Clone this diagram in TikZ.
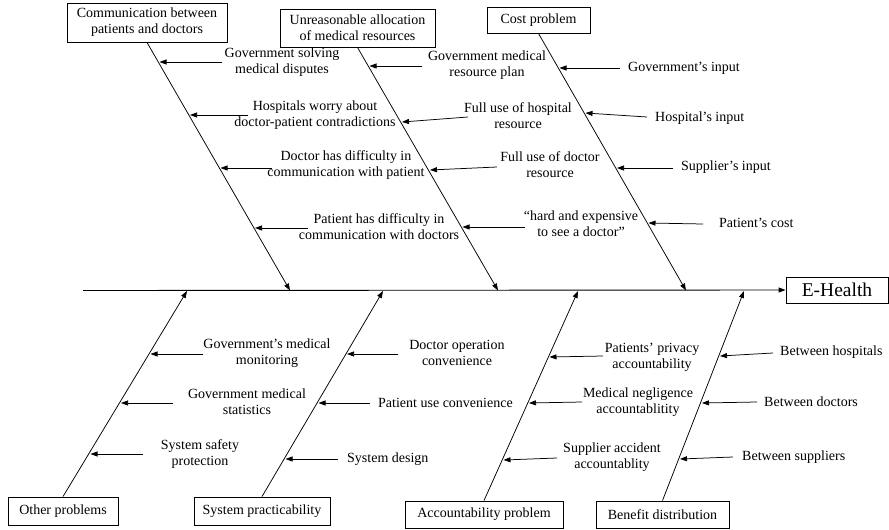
\documentclass[tikz,border=0pt]{standalone}
\usepackage{fontspec}
\setmainfont{Liberation Serif}
\usetikzlibrary{arrows.meta}
\begin{document}
\begin{tikzpicture}[x=1pt,y=-1pt,
  every node/.style={font=\fontsize{14}{16}\selectfont},
  cause/.style={draw, line width=0.9pt, inner sep=0pt, align=center},
  lbl/.style={align=center, inner sep=0pt},
  rlbl/.style={anchor=west, inner sep=0pt},
  bone/.style={line width=0.75pt, -{Triangle[length=7pt,width=5pt]}},
  twig/.style={line width=0.75pt, -{Triangle[length=7pt,width=5pt]}},
]
\useasboundingbox (0,0) rectangle (889,530);

% effect and main spine
\node[cause, minimum width=102pt, minimum height=26pt,
      font=\fontsize{19.5}{22}\selectfont] (eh) at (837,290) {E-Health};
\coordinate (tail) at (83,290.5);
\draw[line width=0.9pt, -{Triangle[length=7pt,width=5pt]}] (tail) -- (eh.west);

% cause boxes
\node[cause, minimum width=160pt, minimum height=39pt] (b1) at (147,22.5) {Communication between\\patients and doctors};
\node[cause, minimum width=155pt, minimum height=38pt] (b2) at (357.5,28) {Unreasonable allocation\\of medical resources};
\node[cause, minimum width=103pt, minimum height=26pt] (b3) at (538.5,20) {Cost problem};
\node[cause, minimum width=110pt, minimum height=28pt] (b4) at (63,511) {Other problems};
\node[cause, minimum width=136pt, minimum height=28pt] (b5) at (262,511) {System practicability};
\node[cause, minimum width=158pt, minimum height=27pt] (b6) at (484,514.5) {Accountability problem};
\node[cause, minimum width=133pt, minimum height=27pt] (b7) at (662.5,514.5) {Benefit distribution};

% where the bones meet the spine
\coordinate (t1) at (290,290.5);
\coordinate (t2) at (498,290.5);
\coordinate (t3) at (686,290.5);
\coordinate (t4) at (187,291);
\coordinate (t5) at (383,291);
\coordinate (t6) at (578,291);
\coordinate (t7) at (744,291);

\draw[bone] (b1.south) -- (t1);
\draw[bone] (b2.south) -- (t2);
\draw[bone] (b3.south) -- (t3);
\draw[bone] (b4.north) -- (t4);
\draw[bone] (b5.north) -- (t5);
\draw[bone] (b6.north) -- (t6);
\draw[bone] (b7.north) -- (t7);

% --- Communication between patients and doctors
\node[lbl] (l11) at (282,62) {Government solving\\medical disputes};
\node[lbl] (l12) at (315,115) {Hospitals worry about\\doctor-patient contradictions};
\node[lbl] (l13) at (346,165) {Doctor has difficulty in\\communication with patient};
\node[lbl] (l14) at (379,227) {Patient has difficulty in\\communication with doctors};
\coordinate (s11) at (222,62);  \coordinate (e11) at (159.5,62);
\coordinate (s12) at (248,115); \coordinate (e12) at (190,115);
\coordinate (s13) at (272,168); \coordinate (e13) at (220.5,168);
\coordinate (s14) at (308,228); \coordinate (e14) at (255,228);
\draw[twig] (s11) -- (e11);
\draw[twig] (s12) -- (e12);
\draw[twig] (s13) -- (e13);
\draw[twig] (s14) -- (e14);

% --- Unreasonable allocation of medical resources
\node[lbl] (l21) at (487,65) {Government medical\\resource plan};
\node[lbl] (l22) at (518,116) {Full use of hospital\\resource};
\node[lbl] (l23) at (550,165) {Full use of doctor\\resource};
\node[lbl] (l24) at (581,224) {“hard and expensive\\to see a doctor”};
\coordinate (s21) at (422,66);  \coordinate (e21) at (369.5,66);
\coordinate (s22) at (468,117); \coordinate (e22) at (402,122);
\coordinate (s23) at (497,167); \coordinate (e23) at (430,170);
\coordinate (s24) at (525,227); \coordinate (e24) at (462.5,227);
\draw[twig] (s21) -- (e21);
\draw[twig] (s22) -- (e22);
\draw[twig] (s23) -- (e23);
\draw[twig] (s24) -- (e24);

% --- Cost problem
\node[rlbl] (l31) at (628,68) {Government’s input};
\node[rlbl] (l32) at (655,118) {Hospital’s input};
\node[rlbl] (l33) at (681,167) {Supplier’s input};
\node[rlbl] (l34) at (719,223) {Patient’s cost};
\coordinate (s31) at (620,68);  \coordinate (e31) at (559.5,68);
\coordinate (s32) at (647,117); \coordinate (e32) at (585.5,113);
\coordinate (s33) at (673,168); \coordinate (e33) at (617,168);
\coordinate (s34) at (703,224); \coordinate (e34) at (648.5,223);
\draw[twig] (s31) -- (e31);
\draw[twig] (s32) -- (e32);
\draw[twig] (s33) -- (e33);
\draw[twig] (s34) -- (e34);

% --- Other problems
\node[lbl] (l41) at (267,353) {Government’s medical\\monitoring};
\node[lbl] (l42) at (247,402) {Government medical\\statistics};
\node[lbl] (l43) at (200,454) {System safety\\protection};
\coordinate (s41) at (203,354); \coordinate (e41) at (150.5,354);
\coordinate (s42) at (173,403); \coordinate (e42) at (121,403);
\coordinate (s43) at (143,454); \coordinate (e43) at (90.5,454);
\draw[twig] (s41) -- (e41);
\draw[twig] (s42) -- (e42);
\draw[twig] (s43) -- (e43);

% --- System practicability
\node[lbl] (l51) at (457,353) {Doctor operation\\convenience};
\node[rlbl] (l52) at (378,403) {Patient use convenience};
\node[rlbl] (l53) at (347,459) {System design};
\coordinate (s51) at (398,354); \coordinate (e51) at (347,354);
\coordinate (s52) at (370,403); \coordinate (e52) at (318.5,403);
\coordinate (s53) at (338,459); \coordinate (e53) at (285.5,459);
\draw[twig] (s51) -- (e51);
\draw[twig] (s52) -- (e52);
\draw[twig] (s53) -- (e53);

% --- Accountability problem
\node[lbl] (l61) at (652,357) {Patients’ privacy\\accountability};
\node[lbl] (l62) at (638,402) {Medical negligence\\accountablitity};
\node[lbl] (l63) at (612,457) {Supplier accident\\accountablity};
\coordinate (s61) at (603,356); \coordinate (e61) at (549.5,357);
\coordinate (s62) at (582,402); \coordinate (e62) at (529,403);
\coordinate (s63) at (557,458); \coordinate (e63) at (503.5,460);
\draw[twig] (s61) -- (e61);
\draw[twig] (s62) -- (e62);
\draw[twig] (s63) -- (e63);

% --- Benefit distribution
\node[rlbl] (l71) at (780,352) {Between hospitals};
\node[rlbl] (l72) at (764,402) {Between doctors};
\node[rlbl] (l73) at (742,457) {Between suppliers};
\coordinate (s71) at (773,353); \coordinate (e71) at (720,356);
\coordinate (s72) at (757,402); \coordinate (e72) at (702,403);
\coordinate (s73) at (733,457); \coordinate (e73) at (680,459);
\draw[twig] (s71) -- (e71);
\draw[twig] (s72) -- (e72);
\draw[twig] (s73) -- (e73);
\end{tikzpicture}
\end{document}
